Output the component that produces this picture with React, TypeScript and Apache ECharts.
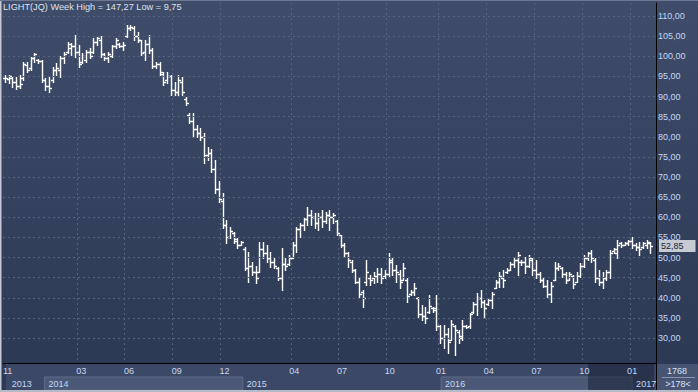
import React, { useEffect, useRef } from 'react';
import * as echarts from 'echarts';

// Weekly OHLC values (Nov 2013 – Feb 2017)
const opens: number[] = [
  94.5, 94.3, 94.5, 93.5, 92.5, 94.5, 97.8, 97.0, 99.5, 99.0,
  98.8, 94.0, 92.5, 94.0, 96.5, 96.5, 99.5, 101.0, 102.0, 102.5,
  101.0, 98.5, 99.0, 101.0, 101.0, 103.5, 104.0, 100.5, 99.5, 100.0,
  102.5, 103.0, 102.6, 105.0, 107.0, 107.0, 105.0, 104.0, 101.0, 103.0,
  101.5, 97.5, 98.0, 95.5, 94.0, 95.0, 91.5, 91.0, 93.5, 89.5,
  85.5, 84.0, 82.0, 81.0, 80.0, 75.5, 76.0, 72.0, 67.0, 64.0,
  58.0, 55.0, 56.0, 54.0, 53.2, 52.0, 47.5, 48.0, 46.5, 46.5,
  52.0, 51.0, 50.0, 49.0, 47.5, 45.0, 48.5, 48.5, 50.0, 53.0,
  57.0, 58.0, 59.5, 60.5, 60.0, 58.5, 60.0, 59.0, 60.5, 60.0,
  59.0, 55.5, 53.0, 51.0, 49.0, 47.0, 44.0, 41.5, 44.0, 45.0,
  45.0, 45.5, 46.0, 45.5, 46.0, 49.0, 47.0, 46.0, 44.5, 44.5,
  41.0, 41.5, 40.0, 36.0, 35.5, 36.5, 37.5, 37.5, 33.0, 30.0,
  31.0, 29.5, 33.0, 31.5, 30.5, 33.0, 33.0, 36.5, 38.5, 40.0,
  39.0, 38.5, 39.5, 42.5, 44.0, 45.0, 46.5, 47.0, 48.5, 49.5,
  49.0, 49.0, 48.0, 49.5, 47.0, 46.0, 44.5, 43.0, 41.0, 44.5,
  47.5, 47.5, 46.0, 44.5, 45.5, 44.0, 45.5, 48.0, 50.0, 51.0,
  49.5, 45.0, 44.0, 45.0, 46.5, 51.5, 51.0, 53.5, 53.2, 53.5,
  54.0, 53.0, 52.5, 52.5, 53.0, 53.5,
];
const closes: number[] = [
  94.5, 95.0, 93.5, 92.5, 93.0, 98.0, 96.5, 99.5, 100.5, 98.8,
  94.0, 92.5, 92.0, 96.5, 97.0, 99.5, 100.5, 103.0, 102.5, 101.0,
  98.0, 100.0, 101.0, 100.0, 103.5, 104.5, 100.5, 99.5, 100.5, 102.5,
  104.0, 102.6, 102.8, 107.0, 107.2, 105.0, 104.0, 100.8, 103.0, 101.5,
  97.5, 98.0, 96.0, 93.5, 95.0, 91.5, 91.0, 94.0, 91.0, 88.5,
  84.0, 82.0, 81.0, 80.0, 75.5, 76.0, 72.0, 67.0, 64.5, 58.0,
  55.0, 56.5, 54.5, 53.0, 53.9, 47.5, 48.0, 46.5, 45.0, 52.0,
  51.0, 50.0, 49.0, 48.0, 45.0, 48.5, 48.0, 50.0, 53.0, 57.0,
  58.0, 59.5, 60.5, 60.0, 58.5, 60.0, 59.0, 60.5, 60.0, 60.5,
  56.0, 53.0, 51.0, 49.5, 47.0, 44.0, 41.0, 40.0, 46.5, 44.5,
  45.5, 46.0, 45.0, 46.0, 49.5, 47.0, 46.5, 44.0, 47.5, 40.5,
  41.5, 42.5, 36.0, 35.5, 35.0, 38.0, 37.0, 33.0, 30.0, 31.0,
  29.0, 33.5, 32.0, 30.0, 33.0, 32.8, 36.0, 38.5, 40.0, 39.0,
  37.5, 39.5, 41.0, 44.0, 45.5, 44.5, 47.0, 48.5, 49.5, 50.5,
  49.0, 48.0, 50.0, 47.0, 46.0, 44.5, 43.0, 41.0, 43.0, 47.5,
  48.0, 46.0, 44.5, 46.0, 43.5, 45.5, 48.0, 50.0, 51.0, 50.0,
  45.0, 44.0, 45.0, 46.5, 51.0, 52.0, 53.0, 53.0, 53.6, 54.0,
  53.0, 52.5, 52.0, 53.5, 53.8, 52.85,
];
const lows: number[] = [
  93.6, 93.4, 92.4, 91.9, 92.1, 94.1, 96.1, 96.6, 98.6, 98.3,
  93.6, 91.5, 91.1, 93.6, 95.3, 94.8, 98.3, 100.8, 100.3, 99.8,
  97.3, 98.3, 98.6, 99.6, 100.8, 102.8, 99.8, 99.0, 98.6, 99.8,
  102.0, 102.3, 101.6, 104.8, 106.5, 104.0, 103.5, 100.3, 99.0, 100.8,
  97.0, 97.0, 95.3, 92.9, 93.4, 90.4, 90.4, 90.4, 90.4, 87.9,
  83.4, 80.0, 80.0, 79.2, 73.5, 74.2, 71.2, 66.0, 63.8, 57.3,
  53.6, 54.8, 53.6, 52.4, 53.1, 46.9, 43.9, 45.7, 43.7, 46.4,
  50.0, 48.9, 47.6, 47.4, 44.4, 42.0, 46.9, 48.1, 49.9, 51.4,
  55.0, 56.8, 58.0, 58.0, 57.3, 56.8, 57.6, 58.6, 56.8, 58.6,
  55.6, 52.6, 50.1, 47.6, 46.4, 43.7, 40.2, 37.7, 43.2, 43.2,
  43.7, 43.9, 43.7, 44.9, 45.2, 45.7, 43.9, 42.4, 44.4, 38.9,
  40.7, 40.7, 35.2, 34.5, 33.7, 36.2, 36.5, 32.0, 28.8, 27.5,
  26.3, 29.5, 25.8, 28.8, 29.5, 32.5, 32.5, 36.2, 35.7, 37.7,
  35.0, 38.3, 37.5, 42.4, 42.7, 42.7, 46.2, 46.9, 47.6, 45.7,
  48.1, 46.1, 47.6, 45.7, 44.9, 43.9, 42.7, 40.2, 39.0, 44.4,
  46.9, 45.2, 43.7, 44.4, 42.4, 43.9, 45.2, 47.6, 49.4, 48.9,
  43.9, 43.2, 42.4, 44.5, 44.9, 51.1, 49.9, 52.6, 53.1, 53.1,
  52.4, 51.9, 50.6, 52.4, 52.4, 51.1,
];
const highs: number[] = [
  95.3, 95.3, 94.8, 94.8, 95.3, 98.6, 98.6, 99.8, 100.8, 99.3,
  99.0, 94.5, 94.8, 97.3, 98.3, 100.0, 101.0, 103.5, 103.3, 105.3,
  102.8, 100.8, 101.5, 102.0, 104.5, 104.8, 105.0, 100.8, 101.0, 102.8,
  104.5, 103.3, 103.5, 107.8, 107.8, 107.5, 106.0, 104.0, 104.0, 105.3,
  102.0, 98.6, 98.6, 96.0, 96.0, 95.3, 93.6, 95.3, 94.8, 89.9,
  86.0, 86.0, 83.0, 82.2, 81.0, 77.5, 77.0, 74.2, 69.0, 66.0,
  59.3, 57.6, 56.3, 54.8, 54.2, 52.6, 51.4, 48.9, 48.0, 53.9,
  53.9, 53.0, 51.4, 49.9, 47.6, 52.4, 49.9, 50.6, 53.9, 57.6,
  58.6, 59.8, 62.5, 61.8, 61.0, 61.0, 61.8, 61.3, 61.8, 61.0,
  59.3, 55.6, 53.6, 51.4, 49.4, 47.2, 45.2, 41.9, 49.4, 45.7,
  46.4, 47.4, 47.4, 46.9, 51.1, 49.9, 48.1, 46.9, 48.6, 45.0,
  41.9, 43.7, 40.2, 38.2, 37.7, 40.7, 37.7, 40.7, 33.2, 33.2,
  32.5, 34.5, 33.2, 32.0, 34.5, 33.2, 36.2, 39.0, 41.2, 42.0,
  39.4, 40.0, 41.4, 44.4, 46.4, 46.9, 47.4, 48.9, 50.1, 51.4,
  49.4, 50.1, 50.6, 49.8, 49.4, 46.4, 44.8, 44.4, 44.0, 48.9,
  48.6, 47.6, 46.4, 46.4, 45.7, 46.4, 48.6, 50.6, 51.4, 51.9,
  49.8, 46.9, 46.4, 47.0, 51.9, 52.4, 54.4, 53.9, 53.9, 54.4,
  55.1, 53.6, 53.9, 53.9, 54.4, 53.9,
];

// Number of weekly slots on the category axis (last slot left empty)
const slotCount = 177;
const firstWeek = '2013-11-08';

// Month tick labels (first week index of the labelled month)
const monthTickIndex: number[] = [0, 20, 33, 46, 59, 78, 91, 104, 118, 131, 144, 157, 170];
const monthTickLabel: string[] = ['11', '03', '06', '09', '12', '04', '07', '10', '01', '04', '07', '10', '01'];
// Year labels
const yearTickIndex: number[] = [0, 10, 64, 118, 170];
const yearTickLabel: string[] = ['2013', '2014', '2015', '2016', '2017'];

// Price tick labels
const priceTicks: number[] = [30, 35, 40, 45, 50, 55, 60, 65, 70, 75, 80, 85, 90, 95, 100, 105, 110];
const lastPrice = 52.85;
const titleText = 'LIGHT(JQ) Week High = 147,27 Low = 9,75';
const barCountText = '1768';
const visibleText = '>178<';
const navigatorStart = 158;

const FONT = '"Liberation Sans", Arial, sans-serif';
const LABEL_COLOR = '#c6d7f5';
const GRID_COLOR = '#56637f';

function weekCategories(): string[] {
  const out: string[] = [];
  const d0 = new Date(firstWeek + 'T00:00:00Z').getTime();
  for (let i = 0; i < slotCount; i++) {
    out.push(new Date(d0 + i * 7 * 86400000).toISOString().slice(0, 10));
  }
  return out;
}

export default function App() {
  const ref = useRef<HTMLDivElement>(null);

  useEffect(() => {
    if (!ref.current) return;
    const chart = echarts.init(ref.current, undefined, { renderer: 'svg' });
    const cats = weekCategories();
    const ohlc = opens.map((o, i) => [i, o, closes[i], lows[i], highs[i]]);
    const monthSet = new Set(monthTickIndex);
    const monthMap: Record<number, string> = {};
    monthTickIndex.forEach((k, i) => (monthMap[k] = monthTickLabel[i]));
    const yearMap: Record<number, string> = {};
    yearTickIndex.forEach((k, i) => (yearMap[k] = yearTickLabel[i]));

    const yearCells: any[] = [];
    for (let i = 0; i < yearTickIndex.length - 1; i++) {
      if (i % 2 === 1) {
        yearCells.push([
          { xAxis: cats[yearTickIndex[i]], yAxis: 0 },
          { xAxis: cats[yearTickIndex[i + 1]], yAxis: 1 },
        ]);
      }
    }

    const fmt = (v: number) => v.toFixed(2).replace('.', ',');

    const option: any = {
      animation: false,
      backgroundColor: new echarts.graphic.LinearGradient(0, 0, 0, 1, [
        { offset: 0, color: '#3f4c6a' },
        { offset: 1, color: '#2b3853' },
      ]),
      textStyle: { fontFamily: FONT },
      title: {
        text: titleText,
        left: 3,
        top: 2,
        padding: 0,
        textStyle: { color: '#dde2ec', fontSize: 9.2, fontWeight: 'normal', fontFamily: FONT },
      },
      grid: [
        { left: 3, right: 42, top: 3, bottom: 29, containLabel: false },
        {
          left: 3, right: 42, top: 364, bottom: 2, containLabel: false,
          show: true, backgroundColor: '#3c4966', borderWidth: 0,
        },
      ],
      xAxis: [
        {
          type: 'category', gridIndex: 0, data: cats, boundaryGap: true,
          axisLine: { show: true, lineStyle: { color: '#000000', width: 1 } },
          axisTick: { show: false },
          axisLabel: { show: false },
          splitLine: {
            show: true,
            interval: (i: number) => monthSet.has(i) && i > 0,
            lineStyle: { color: GRID_COLOR, type: [2, 3], width: 1 },
          },
        },
        {
          type: 'category', gridIndex: 1, data: cats, boundaryGap: true, position: 'top', z: 3,
          axisLine: { show: false }, axisTick: { show: false }, splitLine: { show: false },
          axisLabel: {
            show: true, inside: true, margin: 2,
            interval: (i: number) => monthSet.has(i),
            formatter: (_v: string, i: number) => monthMap[i] ?? '',
            color: LABEL_COLOR, fontSize: 9, fontFamily: FONT,
          },
        },
        {
          type: 'category', gridIndex: 1, data: cats, boundaryGap: true, position: 'bottom', z: 3,
          axisLine: { show: false }, axisTick: { show: false }, splitLine: { show: false },
          axisLabel: {
            show: true, inside: true, margin: 2, align: 'left', padding: [0, 0, 0, 4],
            interval: (i: number) => yearMap[i] !== undefined,
            formatter: (_v: string, i: number) => yearMap[i] ?? '',
            color: LABEL_COLOR, fontSize: 9, fontFamily: FONT,
          },
        },
      ],
      yAxis: [
        {
          type: 'value', gridIndex: 0, position: 'right', min: 23.79, max: 113.23,
          axisLine: { show: true, lineStyle: { color: '#000000', width: 1 } },
          axisTick: { show: false },
          splitLine: { show: false },
          axisLabel: {
            show: true, margin: 2, customValues: priceTicks,
            formatter: (v: number) => fmt(v),
            color: LABEL_COLOR, fontSize: 9, fontFamily: FONT,
          },
        },
        {
          type: 'value', gridIndex: 1, position: 'right', min: 0, max: 2,
          axisLine: { show: true, lineStyle: { color: '#000000', width: 1 } },
          axisTick: { show: false }, axisLabel: { show: false }, splitLine: { show: false },
        },
      ],
      series: [
        {
          type: 'custom',
          xAxisIndex: 0, yAxisIndex: 0,
          data: ohlc,
          encode: { x: 0, y: [1, 2, 3, 4] },
          z: 4,
          renderItem: (_p: any, api: any) => {
            const idx = api.value(0);
            const pH = api.coord([idx, api.value(4)]);
            const pL = api.coord([idx, api.value(3)]);
            const pO = api.coord([idx, api.value(1)]);
            const pC = api.coord([idx, api.value(2)]);
            const x = Math.round(pH[0]) + 0.5;
            const yo = Math.round(pO[1]) + 0.5;
            const yc = Math.round(pC[1]) + 0.5;
            const style = { stroke: '#ffffff', lineWidth: 1.4 };
            return {
              type: 'group',
              children: [
                { type: 'line', shape: { x1: x, y1: Math.round(pH[1]), x2: x, y2: Math.round(pL[1]) + 1 }, style },
                { type: 'line', shape: { x1: x - 2.5, y1: yo, x2: x, y2: yo }, style },
                { type: 'line', shape: { x1: x, y1: yc, x2: x + 2.5, y2: yc }, style },
              ],
            };
          },
          markLine: {
            silent: true,
            symbol: ['none', 'none'],
            animation: false,
            data: priceTicks.map((v) => ({
              yAxis: v,
              label: { show: false },
              lineStyle: { color: GRID_COLOR, type: [2, 3], width: 1 },
            })),
          },
        },
        {
          type: 'line', xAxisIndex: 0, yAxisIndex: 0, data: [], z: 8,
          markLine: {
            silent: true,
            symbol: ['none', 'none'],
            animation: false,
            lineStyle: { color: 'rgba(0,0,0,0)', width: 0.01 },
            data: [{
              yAxis: lastPrice,
              label: {
                show: true, position: 'end', distance: 3,
                formatter: fmt(lastPrice),
                backgroundColor: '#c6cad2', color: '#1c2333',
                padding: [2, 12, 1, 2], fontSize: 9, fontFamily: FONT,
              },
            }],
          },
        },
        {
          type: 'line', xAxisIndex: 1, yAxisIndex: 1, data: [], z: 1,
          markArea: {
            silent: true,
            itemStyle: { color: '#4b5977', borderColor: '#5e6c8a', borderWidth: 1 },
            label: { show: false },
            data: yearCells,
          },
        },
        {
          type: 'line', xAxisIndex: 1, yAxisIndex: 1, data: [], z: 6,
          markArea: {
            silent: true,
            itemStyle: { color: 'rgba(24,32,52,0.55)' },
            label: { show: false },
            data: [[
              { xAxis: cats[navigatorStart], yAxis: 0 },
              { xAxis: cats[slotCount - 1], yAxis: 2 },
            ]],
          },
        },
      ],
      graphic: {
        elements: [
          { type: 'rect', z: 100, shape: { x: 657, y: 364, width: 41, height: 27 }, style: { fill: '#475572' } },
          { type: 'line', z: 101, shape: { x1: 662, y1: 377.5, x2: 695, y2: 377.5 }, style: { stroke: '#8896b2', lineWidth: 1 } },
          {
            type: 'text', z: 101, x: 677, y: 371,
            style: { text: barCountText, fill: '#d6e2fa', font: `9px ${FONT}`, align: 'center', verticalAlign: 'middle' },
          },
          {
            type: 'text', z: 101, x: 678, y: 384,
            style: { text: visibleText, fill: '#d6e2fa', font: `9px ${FONT}`, align: 'center', verticalAlign: 'middle' },
          },
          { type: 'rect', z: 102, shape: { x: 0, y: 0, width: 1.5, height: 392 }, style: { fill: '#c3cad6' } },
          { type: 'rect', z: 102, shape: { x: 0, y: 390, width: 698, height: 2 }, style: { fill: '#b3bbc8' } },
          { type: 'rect', z: 102, shape: { x: 0, y: 0, width: 698, height: 1 }, style: { fill: '#6d7890' } },
        ],
      },
    };

    chart.setOption(option);
    return () => chart.dispose();
  }, []);

  return (
    <div
      ref={ref}
      style={{ position: 'fixed', left: 0, top: 0, width: 698, height: 392 }}
    />
  );
}
